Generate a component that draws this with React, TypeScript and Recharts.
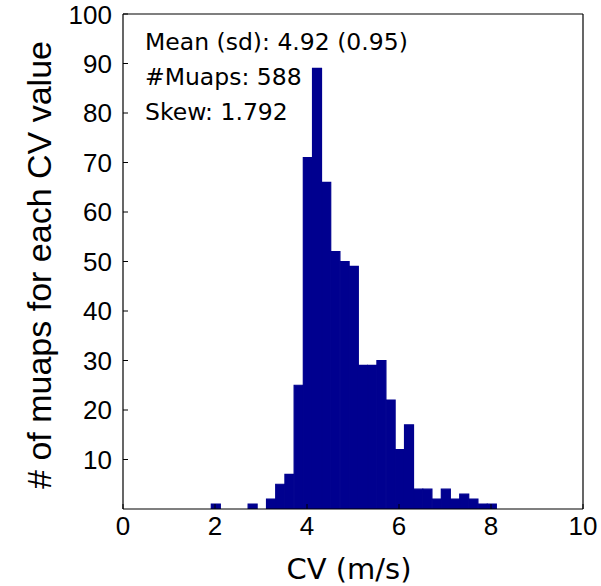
import React from 'react';
import { BarChart, Bar, XAxis, YAxis } from 'recharts';

const binCenters = [2.02, 2.22, 2.42, 2.62, 2.82, 3.02, 3.22, 3.42, 3.62, 3.82, 4.02, 4.22, 4.42, 4.62, 4.82, 5.02, 5.22, 5.42, 5.62, 5.82, 6.02, 6.22, 6.42, 6.62, 6.82, 7.02, 7.22, 7.42, 7.62, 7.82, 8.02];
const counts = [1, 0, 0, 0, 1, 0, 2, 5, 7, 25, 71, 89, 66, 52, 50, 49, 29, 29, 30, 22, 12, 17, 4, 4, 2, 4, 2, 3, 2, 1, 1];
const xTicks = [0, 2, 4, 6, 8, 10];
const yTicks = [10, 20, 30, 40, 50, 60, 70, 80, 90, 100];
const statLines = ['Mean (sd): 4.92 (0.95)', '#Muaps: 588', 'Skew: 1.792'];
const xLabel = 'CV (m/s)';
const yLabel = '# of muaps for each CV value';

const data = binCenters.map((cv, i) => ({ cv, count: counts[i] }));

const tickFont = { fill: '#000', fontSize: 26, fontFamily: '"Liberation Sans", Arial, sans-serif' };
const barColor = '#00008F';

export default function App() {
  return (
    <div style={{ position: 'absolute', left: 0, top: 0, width: 601, height: 586, background: '#fff' }}>
      <BarChart
        width={601}
        height={586}
        data={data}
        margin={{ top: 13, right: 17, left: 0, bottom: 0 }}
        barCategoryGap={0}
        barGap={0}
      >
        <XAxis
          xAxisId="b"
          dataKey="cv"
          type="number"
          domain={[0, 10]}
          ticks={xTicks}
          height={77}
          tickSize={-5}
          tickMargin={13}
          axisLine={{ stroke: '#000', strokeWidth: 1.2 }}
          tickLine={{ stroke: '#000' }}
          tick={tickFont}
          allowDataOverflow
        />
        <XAxis
          xAxisId="t"
          orientation="top"
          dataKey="cv"
          type="number"
          domain={[0, 10]}
          ticks={xTicks}
          height={1}
          tickSize={-5}
          axisLine={{ stroke: '#000', strokeWidth: 1.2 }}
          tickLine={{ stroke: '#000' }}
          tick={false}
          allowDataOverflow
        />
        <YAxis
          yAxisId="l"
          type="number"
          domain={[0, 100]}
          ticks={yTicks}
          width={123}
          tickSize={-5}
          tickMargin={16}
          axisLine={{ stroke: '#000', strokeWidth: 1.2 }}
          tickLine={{ stroke: '#000' }}
          tick={tickFont}
          allowDataOverflow
        />
        <YAxis
          yAxisId="r"
          orientation="right"
          type="number"
          domain={[0, 100]}
          ticks={yTicks}
          width={1}
          tickSize={-5}
          axisLine={{ stroke: '#000', strokeWidth: 1.2 }}
          tickLine={{ stroke: '#000' }}
          tick={false}
          allowDataOverflow
        />
        <Bar
          xAxisId="b"
          yAxisId="l"
          dataKey="count"
          fill={barColor}
          stroke={barColor}
          strokeWidth={1.2}
          isAnimationActive={false}
        />
      </BarChart>
      <svg width={601} height={586} style={{ position: 'absolute', left: 0, top: 0, pointerEvents: 'none' }}>
        {statLines.map((s, i) => (
          <text key={i} x={145} y={50 + i * 35} fontSize={23.5} fontFamily='"DejaVu Sans", sans-serif' fill="#000">
            {s}
          </text>
        ))}
        <text x={349} y={579} textAnchor="middle" fontSize={29} fontFamily='"DejaVu Sans", sans-serif' fill="#000">
          {xLabel}
        </text>
        <text
          x={51}
          y={265}
          textAnchor="middle"
          transform="rotate(-90 51 265)"
          fontSize={34}
          fontFamily='"Liberation Sans", Arial, sans-serif'
          fill="#000"
        >
          {yLabel}
        </text>
      </svg>
    </div>
  );
}
